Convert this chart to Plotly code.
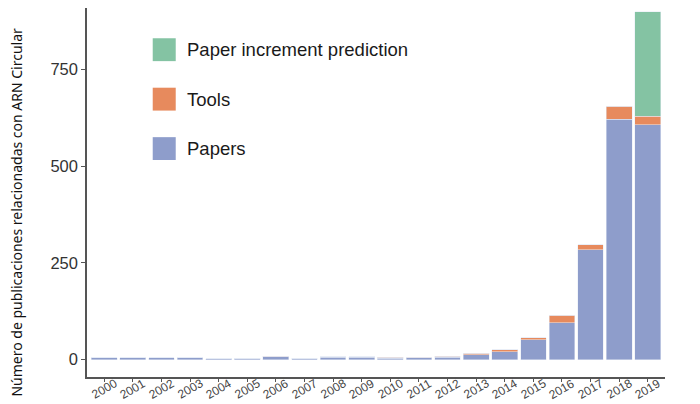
import plotly.graph_objects as go

years = [str(y) for y in range(2000, 2020)]
papers = [5, 5, 5, 5, 2, 3, 7, 4, 6, 6, 4, 5, 6, 12, 20, 51, 95, 284, 621, 607]
tools = [0, 0, 0, 0, 0, 0, 2, 0, 1, 2, 2, 1, 3, 4, 5, 6, 20, 13, 34, 22]
prediction = [0] * 19 + [270]

blue = "#8e9dcb"
orange = "#e78a5d"
green = "#84c3a3"

fig = go.Figure()
fig.add_trace(go.Bar(x=years, y=papers, name="Papers", marker_color=blue))
fig.add_trace(go.Bar(x=years, y=tools, name="Tools", marker_color=orange))
fig.add_trace(go.Bar(x=years, y=prediction, name="Paper increment prediction",
                     marker_color=green))

# hand-made legend, big squares like the original
legend_items = [("Paper increment prediction", green, 0.856, 0.918),
                ("Tools", orange, 0.722, 0.784),
                ("Papers", blue, 0.588, 0.650)]
for label, col, y0, y1 in legend_items:
    fig.add_shape(type="rect", xref="paper", yref="paper",
                  x0=0.1137, x1=0.1535, y0=y0, y1=y1,
                  fillcolor=col, line_width=0)
    fig.add_annotation(text=label, xref="paper", yref="paper",
                       x=0.1696, y=(y0 + y1) / 2, xanchor="left", yanchor="middle",
                       showarrow=False,
                       font=dict(family="Liberation Sans, Arial", size=18.5, color="#1a1a1a"))

# rotated year labels centred under each tick (category index as position)
for i, yr in enumerate(years):
    fig.add_annotation(text=yr, x=i, xref="x", yref="paper", y=-0.032,
                       textangle=-30, showarrow=False,
                       xanchor="center", yanchor="middle",
                       font=dict(family="Liberation Sans, Arial", size=12, color="#444444"))

fig.add_annotation(text="Número de publicaciones relacionadas con ARN Circular",
                   xref="paper", yref="paper", x=-0.122, y=0.447, textangle=-90,
                   showarrow=False, xanchor="center", yanchor="middle",
                   font=dict(family="Noto Sans", size=14, color="#111111"))

fig.update_layout(
    width=692, height=396,
    margin=dict(l=79, r=35, t=0, b=27),
    barmode="stack", bargap=0.1,
    showlegend=False,
    plot_bgcolor="white", paper_bgcolor="white",
    xaxis=dict(range=[-0.6, 19.6], showline=True, linecolor="#555555", linewidth=1.5,
               ticks="outside", ticklen=3, tickcolor="#555555", showticklabels=False,
               showgrid=False, automargin=False),
    yaxis=dict(range=[-45, 909], tickvals=[0, 250, 500, 750], showline=True,
               linecolor="#555555", linewidth=1.5, ticks="outside", ticklen=4,
               tickcolor="#555555", showgrid=False, zeroline=False,
               tickfont=dict(family="Liberation Sans, Arial", size=16.5, color="#333333"),
               automargin=False),
)

fig.write_html("out.html")
